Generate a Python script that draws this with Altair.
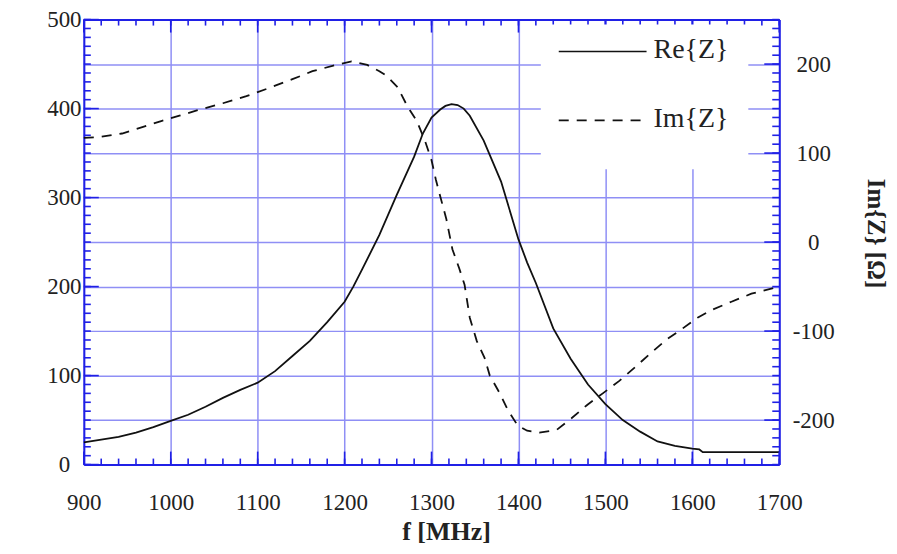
import altair as alt
import pandas as pd

# ---------------- data ----------------
freq_re = [900, 920, 940, 960, 980, 1000, 1020, 1040, 1060, 1080, 1100, 1120, 1140, 1160,
           1180, 1200, 1210, 1220, 1240, 1260, 1280, 1290, 1300, 1310, 1316, 1323, 1330,
           1337, 1344, 1360, 1380, 1400, 1410, 1420, 1440, 1460, 1480, 1500, 1520, 1540,
           1560, 1580, 1600, 1608, 1612, 1700]
re_vals = [25, 28, 31, 36, 42, 49, 56, 65, 75, 84, 92, 105, 122, 139,
           160, 183, 200, 219, 258, 303, 346, 372, 390, 399, 403, 405, 404,
           400, 392, 364, 318, 253, 227, 204, 153, 119, 90, 68, 50, 37,
           26, 21, 18, 17, 14, 14]

freq_im = [900, 918, 944, 970, 989, 1010, 1030, 1060, 1087, 1110, 1140, 1163, 1186, 1208,
           1226, 1240, 1248, 1261, 1272, 1283, 1292, 1300, 1305, 1309, 1317, 1324, 1332,
           1338, 1344, 1352, 1361, 1367, 1378, 1388, 1399, 1410, 1424, 1444, 1461, 1479,
           1497, 1516, 1536, 1553, 1571, 1589, 1606, 1623, 1645, 1668, 1700]
im_vals = [117, 118, 122, 130, 136, 142, 148, 156, 164, 172, 183, 192, 198, 203,
           199, 192, 187, 174, 153, 136, 115, 92, 70, 55, 26, -8, -30,
           -48, -85, -111, -130, -150, -169, -189, -206, -212, -214, -211, -198, -183,
           -170, -156, -139, -124, -109, -97, -85, -76, -67, -58, -50]

x_major = [900, 1000, 1100, 1200, 1300, 1400, 1500, 1600, 1700]
x_minor = list(range(900, 1701, 20))
left_major = [0, 100, 200, 300, 400, 500]
left_minor = list(range(0, 501, 10))
right_major = [-200, -100, 0, 100, 200]
right_minor = list(range(-250, 251, 10))

legend_names = ["Re{Z}", "Im{Z}"]

# ---------------- styling ----------------
W, H = 697, 446
AX = "#2020e6"
GRID = "#8f8ff5"
FONT = "Liberation Serif"
LBL = "#222222"
CURVE = "#111111"
LABEL_EXPR = "datum.value < 0 ? '-' + abs(datum.value) : '' + datum.value"

xscale = alt.Scale(domain=[900, 1700], nice=False, zero=False)
yl = alt.Scale(domain=[0, 500], nice=False, zero=False)
yr = alt.Scale(domain=[-250, 250], nice=False, zero=False)

re_df = pd.DataFrame({"f": freq_re, "v": re_vals})
im_df = pd.DataFrame({"f": freq_im, "v": im_vals})

common_axis = dict(grid=True, gridColor=GRID, gridWidth=1.5, domainColor=AX, domainWidth=2,
                   ticks=False, labelFlush=False, labelOverlap=False, labelFont=FONT,
                   labelFontSize=23, labelColor=LBL, labelExpr=LABEL_EXPR)

re_line = alt.Chart(re_df).mark_line(color=CURVE, strokeWidth=1.8).encode(
    x=alt.X("f:Q", scale=xscale, axis=alt.Axis(
        orient="bottom", values=x_major, title="f [MHz]", labelPadding=38,
        labelBaseline="middle", titleFont=FONT, titleFontSize=26, titleFontWeight="bold",
        titleColor=LBL, titleX=363, titleY=67, titleAlign="center", titleBaseline="middle",
        **common_axis)),
    y=alt.Y("v:Q", scale=yl, axis=alt.Axis(
        orient="left", values=left_major, title=None, labelPadding=20, labelAlign="center",
        **common_axis)),
)

im_line = alt.Chart(im_df).mark_line(color=CURVE, strokeWidth=1.8, strokeDash=[10, 8]).encode(
    x=alt.X("f:Q", scale=xscale, axis=alt.Axis(
        orient="top", labels=False, ticks=False, grid=False, title=None,
        domainColor=AX, domainWidth=2)),
    y=alt.Y("v:Q", scale=yr, axis=alt.Axis(
        orient="right", values=right_major, title="Im{Z} [Ω]", labelPadding=34,
        labelAlign="center", titleFont=FONT, titleFontSize=25, titleFontWeight="bold",
        titleColor=LBL, titleAngle=90, titleX=96, titleY=214, titleAlign="center",
        titleBaseline="middle", **common_axis)),
)


def xticks(vals, length):
    df = pd.DataFrame({"f": vals})
    bottom = alt.Chart(df).mark_rule(color=AX, strokeWidth=1.6).encode(
        x=alt.X("f:Q", scale=xscale, axis=None), y=alt.value(H), y2=alt.value(H - length))
    top = alt.Chart(df).mark_rule(color=AX, strokeWidth=1.6).encode(
        x=alt.X("f:Q", scale=xscale, axis=None), y=alt.value(0), y2=alt.value(length))
    return [bottom, top]


def yticks(vals, scale, length, right):
    df = pd.DataFrame({"v": vals})
    if right:
        xa, xb = W, W - length
    else:
        xa, xb = 0, length
    return alt.Chart(df).mark_rule(color=AX, strokeWidth=1.6).encode(
        y=alt.Y("v:Q", scale=scale, axis=None), x=alt.value(xa), x2=alt.value(xb))


tick_layers = (xticks(x_minor, 6) + xticks(x_major, 13)
               + [yticks(left_minor, yl, 7, False), yticks(left_major, yl, 15, False),
                  yticks(right_minor, yr, 7, True), yticks(right_major, yr, 15, True)])

one = pd.DataFrame({"k": [0]})
legend_box = alt.Chart(one).mark_rect(fill="white").encode(
    x=alt.value(458), x2=alt.value(666), y=alt.value(5), y2=alt.value(150))
leg_re_line = alt.Chart(one).mark_rule(color=CURVE, strokeWidth=1.6).encode(
    x=alt.value(476), x2=alt.value(564), y=alt.value(32))
leg_im_line = alt.Chart(one).mark_rule(color=CURVE, strokeWidth=1.6, strokeDash=[10, 8]).encode(
    x=alt.value(476), x2=alt.value(564), y=alt.value(101))
leg_re_text = alt.Chart(one).mark_text(font=FONT, fontSize=28, align="left", baseline="middle",
                                       color=LBL).encode(
    x=alt.value(571), y=alt.value(31), text=alt.value(legend_names[0]))
leg_im_text = alt.Chart(one).mark_text(font=FONT, fontSize=28, align="left", baseline="middle",
                                       color=LBL).encode(
    x=alt.value(571), y=alt.value(100), text=alt.value(legend_names[1]))

chart = alt.layer(
    re_line, im_line, *tick_layers,
    legend_box, leg_re_line, leg_im_line, leg_re_text, leg_im_text,
).resolve_scale(y="independent").resolve_axis(x="independent", y="independent").properties(
    width=W, height=H,
    padding={"left": 76, "top": 11, "right": 110, "bottom": 81},
    autosize=alt.AutoSizeParams(type="none"),
).configure_view(stroke=None)

chart.save("out.html", embed_options={"renderer": "svg", "actions": False})
